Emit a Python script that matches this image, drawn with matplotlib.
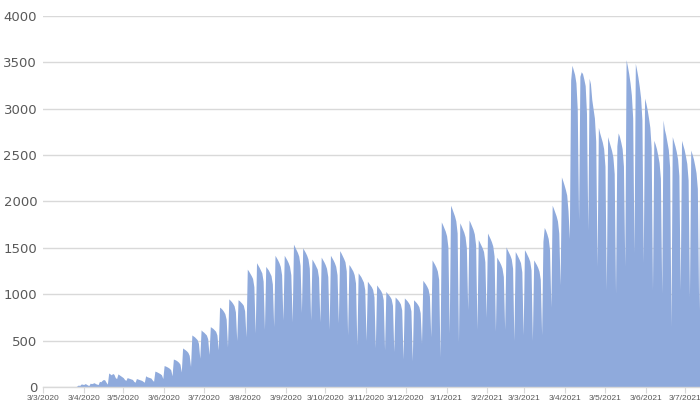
import numpy as np
import pandas as pd
import matplotlib
matplotlib.use('Agg')
import matplotlib.pyplot as plt

# daily values from 3 Mar 2020 (day 0) to 14 Jul 2021
start_2020 = [0]
wave_spring_2020 = [
    0, 0, 0, 0, 0, 0, 0,
    0, 0, 0, 0, 0, 0, 0,
    0, 0, 0, 0, 0, 0, 0,
    0, 0, 0, 0, 10, 20, 15,
    30, 30, 25, 35, 30, 20, 15,
    40, 35, 40, 45, 35, 30, 25,
    60, 55, 70, 80, 75, 50, 30,
    150, 140, 130, 145, 135, 100, 90,
    140, 130, 120, 110, 100, 80, 70,
    100, 95, 90, 85, 80, 60, 50,
    90, 85, 80, 75, 70, 60, 50,
    120, 110, 105, 100, 95, 75, 60,
    170, 165, 158, 150, 142, 130, 90,
    230, 225, 218, 210, 200, 185, 120,
    300, 295, 288, 278, 265, 245, 160,
    420, 410, 400, 388, 372, 340, 220,
    560, 550, 540, 525, 510, 470, 310,
    615, 600, 590, 575, 560, 520, 350,
    650, 640, 630, 615, 600, 560, 400,
]
wave_autumn_2020 = [
    860, 850, 835, 815, 790, 730, 430,
    950, 935, 920, 900, 875, 810, 500,
    940, 930, 915, 900, 880, 820, 540,
    1270, 1250, 1225, 1200, 1170, 1080, 580,
    1340, 1315, 1290, 1260, 1230, 1140, 620,
    1300, 1280, 1260, 1230, 1200, 1110, 650,
    1420, 1395, 1370, 1340, 1300, 1210, 720,
    1420, 1395, 1370, 1340, 1300, 1210, 700,
    1540, 1510, 1480, 1450, 1410, 1310, 800,
    1500, 1475, 1450, 1420, 1380, 1280, 720,
    1380, 1355, 1330, 1300, 1270, 1180, 700,
    1400, 1375, 1350, 1320, 1280, 1190, 620,
    1420, 1395, 1370, 1340, 1300, 1210, 690,
    1470, 1445, 1415, 1385, 1350, 1250, 560,
    1320, 1300, 1275, 1250, 1210, 1120, 450,
    1230, 1210, 1190, 1160, 1130, 1050, 500,
    1140, 1120, 1100, 1080, 1050, 970, 420,
    1100, 1080, 1060, 1040, 1010, 940, 400,
    1030, 1010, 995, 975, 950, 880, 380,
    970, 955, 940, 920, 895, 830, 300,
    960, 945, 930, 910, 885, 820, 280,
]
wave_winter_2021 = [
    940, 925, 910, 890, 865, 800, 470,
    1150, 1130, 1110, 1085, 1055, 980, 540,
    1370, 1345, 1320, 1290, 1250, 1160, 320,
    1780, 1750, 1715, 1680, 1630, 1510, 580,
    1960, 1925, 1885, 1845, 1790, 1660, 480,
    1770, 1740, 1705, 1670, 1620, 1500, 830,
    1800, 1770, 1735, 1700, 1650, 1530, 620,
    1590, 1560, 1530, 1500, 1460, 1350, 750,
    1660, 1630, 1600, 1565, 1520, 1410, 600,
    1400, 1375, 1350, 1320, 1280, 1190, 620,
    1510, 1480, 1450, 1420, 1380, 1280, 500,
    1460, 1435, 1405, 1375, 1340, 1240, 560,
    1480, 1455, 1425, 1395, 1355, 1260, 500,
    1370, 1345, 1320, 1290, 1250, 1160, 560,
    1570, 1720, 1690, 1650, 1600, 1480, 860,
    1960, 1925, 1885, 1845, 1790, 1660, 1100,
    2265, 2225, 2180, 2130, 2070, 1900, 1600,
]
wave_spring_2021 = [
    3310, 3470, 3420, 3370, 3280, 3000, 1800,
    3350, 3400, 3380, 3320, 3250, 2950, 1690,
    3330, 3270, 3100, 3000, 2900, 2650, 1300,
    2800, 2740, 2690, 2640, 2570, 2380, 1045,
    2700, 2650, 2600, 2550, 2480, 2300, 1010,
    2600, 2740, 2700, 2640, 2570, 2380, 1300,
    3530, 3460, 3380, 3280, 3150, 2900, 1445,
    3490, 3420, 3340, 3240, 3120, 2880, 1340,
    3115, 3060, 2990, 2900, 2800, 2580, 1045,
    2660, 2620, 2570, 2500, 2420, 2250, 1010,
    2880, 2780, 2720, 2640, 2560, 2370, 650,
    2700, 2650, 2600, 2540, 2460, 2280, 1045,
    2660, 2610, 2560, 2490, 2410, 2230, 970,
    2555, 2510, 2460, 2390, 2310, 2140, 830,
    2800,
]

values = np.array(start_2020 + wave_spring_2020 + wave_autumn_2020
                  + wave_winter_2021 + wave_spring_2021, dtype=float)
dates = pd.date_range('2020-03-03', periods=len(values), freq='D')
tick_dates = pd.date_range('2020-03-01', '2021-07-01', freq='MS') + pd.Timedelta(days=2)
tick_labels = [f'{d.day}/{d.month}/{d.year}' for d in tick_dates]

FILL = '#8FAADC'
GRID = '#D9D9D9'
TXT = '#595959'

fig = plt.figure(figsize=(7.0, 4.03), dpi=100)
ax = fig.add_axes([0.061, 0.040, 0.939, 0.920])
ax.fill_between(dates, 0, values, color=FILL, lw=0, zorder=2)

ax.set_ylim(0, 4000)
ax.set_xlim(dates[0], dates[-1])
ax.set_yticks(range(0, 4001, 500))
ax.set_yticklabels([str(v) for v in range(0, 4001, 500)], fontsize=9.5, color=TXT)
ax.tick_params(axis='y', length=0, pad=4)
ax.grid(axis='y', color=GRID, lw=1.0, zorder=0)
ax.set_xticks(tick_dates)
ax.set_xticklabels(tick_labels, fontsize=6, color=TXT, family='Liberation Sans')
ax.tick_params(axis='x', length=4, width=0.8, color=GRID, pad=1.5)
for s in ('top', 'right', 'left'):
    ax.spines[s].set_visible(False)
ax.spines['bottom'].set_color(GRID)
ax.spines['bottom'].set_linewidth(1.0)
ax.set_axisbelow(True)

fig.savefig('out.png', dpi=100)
